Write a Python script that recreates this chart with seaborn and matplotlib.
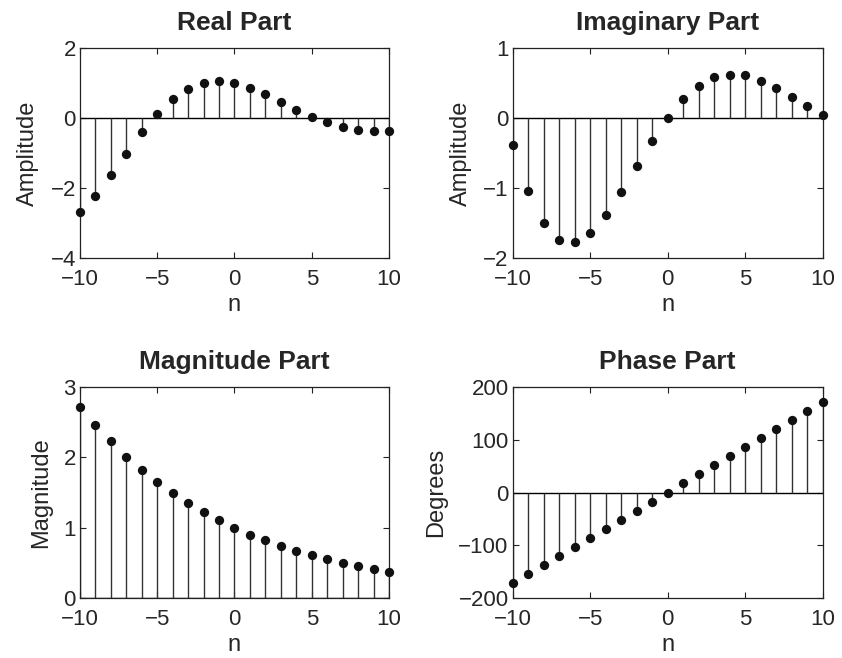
"""
Stem plots of a complex exponential sequence: real, imaginary,
magnitude and phase parts (MATLAB-style layout).
"""

import numpy as np
import pandas as pd
import matplotlib
matplotlib.use('Agg')
import matplotlib.pyplot as plt
import seaborn as sns

n = list(range(-10, 11))

real_part = [-2.69, -2.22, -1.64, -1.02, -0.41, 0.12, 0.54, 0.84, 1.01, 1.06, 1.00,
             0.86, 0.68, 0.46, 0.24, 0.04, -0.12, -0.25, -0.33, -0.37, -0.36]
imag_part = [-0.38, -1.05, -1.50, -1.74, -1.77, -1.64, -1.39, -1.06, -0.69, -0.33, 0.00,
             0.27, 0.46, 0.58, 0.62, 0.61, 0.53, 0.43, 0.30, 0.17, 0.05]
magnitude = [2.72, 2.46, 2.23, 2.01, 1.82, 1.65, 1.49, 1.35, 1.22, 1.11, 1.00,
             0.90, 0.82, 0.74, 0.67, 0.61, 0.55, 0.50, 0.45, 0.41, 0.37]
phase_deg = [-171.9, -154.7, -137.5, -120.3, -103.1, -85.9, -68.8, -51.6, -34.4, -17.2, 0.0,
             17.2, 34.4, 51.6, 68.8, 85.9, 103.1, 120.3, 137.5, 154.7, 171.9]

PANELS = [
    ('Real Part', 'Amplitude', real_part, (-4, 2), [-4, -2, 0, 2]),
    ('Imaginary Part', 'Amplitude', imag_part, (-2, 1), [-2, -1, 0, 1]),
    ('Magnitude Part', 'Magnitude', magnitude, (0, 3), [0, 1, 2, 3]),
    ('Phase Part', 'Degrees', phase_deg, (-200, 200), [-200, -100, 0, 100, 200]),
]

# axes rectangles in figure fractions: left, bottom, width, height
POSITIONS = [
    [0.095, 0.608, 0.367, 0.319],
    [0.609, 0.608, 0.368, 0.319],
    [0.095, 0.091, 0.367, 0.321],
    [0.609, 0.091, 0.368, 0.321],
]

sns.set_style('ticks')
plt.rcParams['font.family'] = ['Liberation Sans', 'DejaVu Sans']
plt.rcParams['axes.unicode_minus'] = True

fig = plt.figure(figsize=(8.42, 6.58), dpi=100)

for (title, ylabel, values, ylim, yticks), pos in zip(PANELS, POSITIONS):
    ax = fig.add_axes(pos)
    df = pd.DataFrame({'n': n, 'value': values})
    ax.axhline(0, color='black', linewidth=1.0, zorder=1)
    ax.vlines(df['n'], 0, df['value'], color='#333333', linewidth=1.0, zorder=2)
    sns.scatterplot(data=df, x='n', y='value', ax=ax, color='#111111', s=45,
                    edgecolor='#111111', linewidth=0, zorder=3, clip_on=False)
    ax.set_xlim(-10, 10)
    ax.set_ylim(*ylim)
    ax.set_xticks([-10, -5, 0, 5, 10])
    ax.set_yticks(yticks)
    ax.tick_params(direction='in', top=True, right=True, length=4,
                   width=0.8, labelsize=16, color='#222222')
    ax.tick_params(axis='x', pad=8)
    ax.tick_params(axis='y', pad=3)
    for sp in ax.spines.values():
        sp.set_linewidth(0.9)
        sp.set_color('#222222')
    ax.set_title(title, fontsize=19, fontweight='bold', pad=13)
    ax.set_xlabel('n', fontsize=17, labelpad=3)
    ax.set_ylabel(ylabel, fontsize=17, labelpad=8)

fig.savefig('out.png', dpi=100)
